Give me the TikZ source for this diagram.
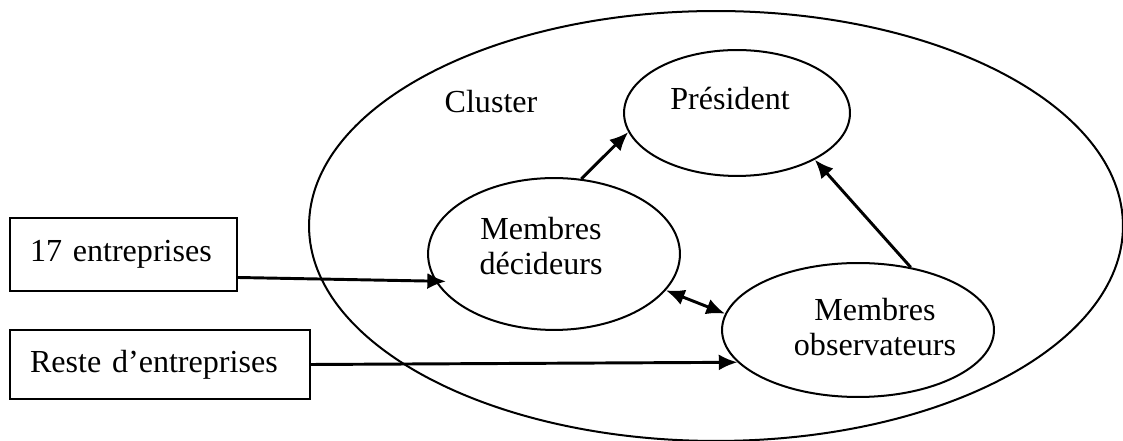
\documentclass[tikz,border=0pt]{standalone}
\usepackage{fontspec}
\setmainfont{Liberation Serif}
\usetikzlibrary{arrows.meta,shapes.geometric}

\begin{document}
\begin{tikzpicture}[x=0.374pt, y=-0.374pt,
		every node/.style={font=\fontsize{12}{13.2}\selectfont},
		bulle/.style={draw, ellipse, line width=0.75pt, inner sep=0pt},
		boite/.style={draw, rectangle, line width=0.75pt, inner xsep=7.5pt, align=left},
		fleche/.style={line width=1.1pt, -{Latex[length=7pt,width=6pt]}}]
		\useasboundingbox (0,0) rectangle (1123,441);
		% ellipses
		\node[bulle, minimum width=304.4pt, minimum height=160.8pt] (cluster) at (716,226) {};
		\node[bulle, minimum width=84.5pt, minimum height=47.1pt] (pres) at (737,113) {};
		\node[bulle, minimum width=94.2pt, minimum height=56.8pt] (dec) at (554,254) {};
		\node[bulle, minimum width=101.7pt, minimum height=50.1pt] (obs) at (858,330) {};
		% textes
		\node (tcluster) at (491,102) {Cluster};
		\node (tpres) at (730,99) {Président};
		\node[align=center] (tdec) at (541,246) {Membres\\décideurs};
		\node[align=center] (tobs) at (875,327) {Membres\\observateurs};
		% entreprises
		\node[boite, text width=69.9pt, minimum height=27.3pt] (e17) at (123.5,254.5) {17 entreprises};
		\node[boite, text width=97.2pt, minimum height=25.8pt] (reste) at (160,364.5) {Reste d’entreprises};
		% fleches
		\draw[fleche] ([yshift=-8.6pt]e17.east) -- ([xshift=4pt]dec.193);
		\draw[fleche] (reste.east) -- (obs.195);
		\draw[fleche, {Latex[length=7pt,width=6pt]}-{Latex[length=7pt,width=6pt]}] (dec.342) -- (obs.173);
		\draw[fleche] (dec.70) -- (pres.190);
		\draw[fleche] (obs.50) -- (pres.329);
\end{tikzpicture}
\end{document}
